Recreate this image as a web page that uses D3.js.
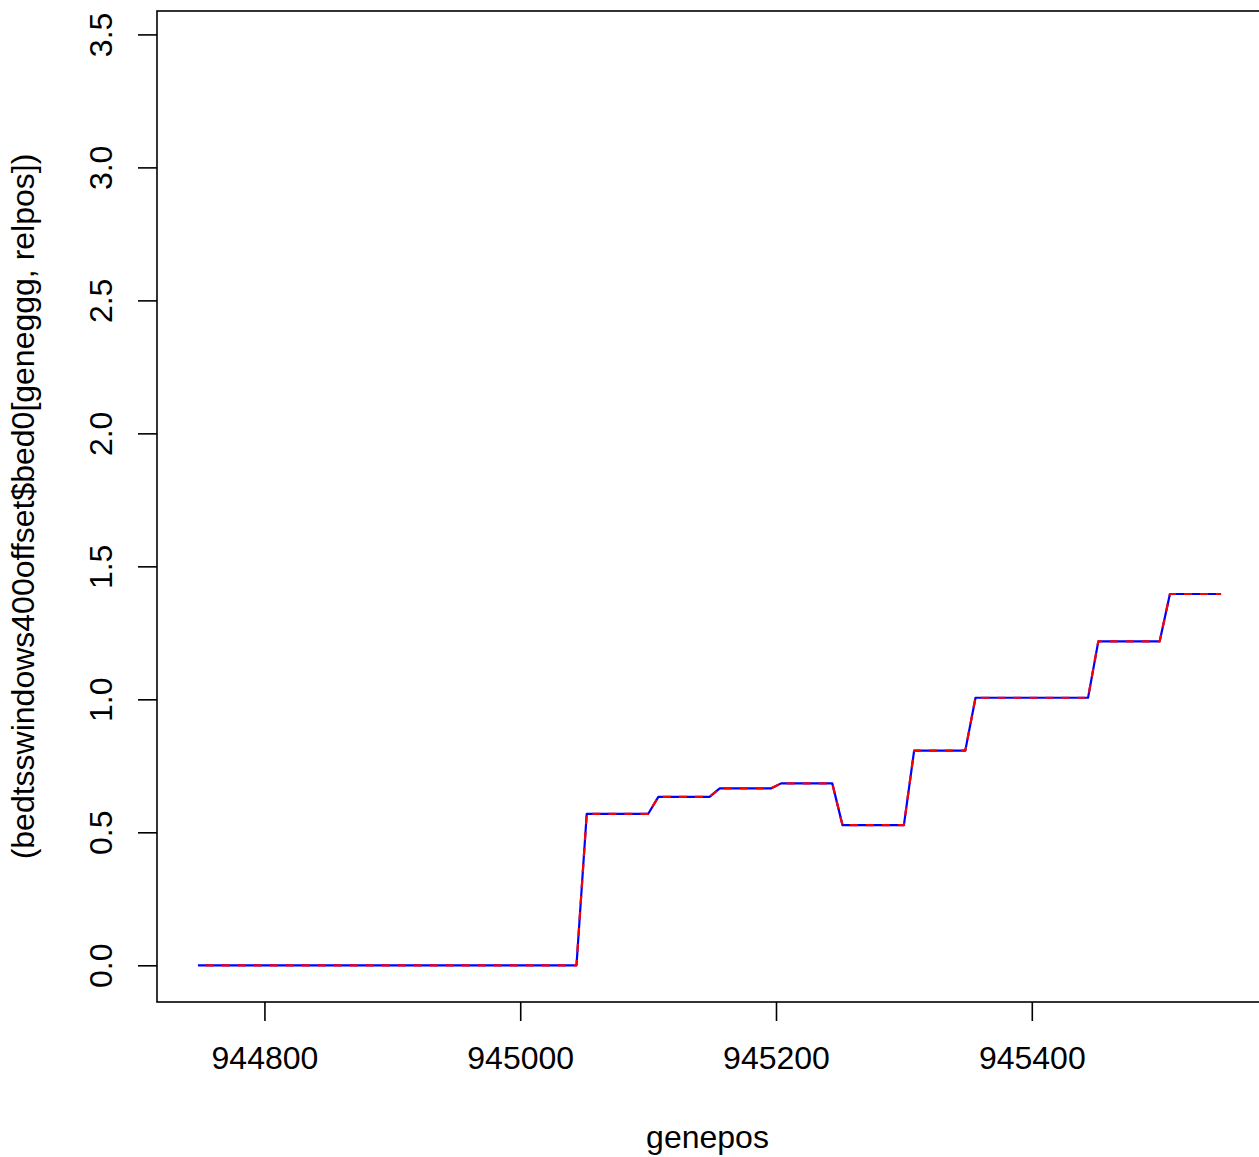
<!DOCTYPE html>
<html>
<head>
<meta charset="utf-8">
<script src="https://cdn.jsdelivr.net/npm/d3@7"></script>
<style>
  html, body { margin: 0; padding: 0; background: #fff; }
  svg { display: block; }
  text { font-family: "Liberation Sans", Arial, Helvetica, sans-serif; fill: #000; }
</style>
</head>
<body>
<svg id="chart" width="1259" height="1157"></svg>
<script>
// ---- data (corner points of the step profile) ----
const genepos = [944748, 945044, 945052, 945100, 945108, 945148, 945156, 945196, 945204, 945244,
                 945252, 945300, 945308, 945348, 945356, 945444, 945452, 945500, 945508, 945548];
const values  = [0, 0, 0.569, 0.569, 0.633, 0.633, 0.665, 0.665, 0.684, 0.684,
                 0.527, 0.527, 0.807, 0.807, 1.006, 1.006, 1.218, 1.218, 1.396, 1.396];
const xTicks = [944800, 945000, 945200, 945400];
const yTicks = [0, 0.5, 1.0, 1.5, 2.0, 2.5, 3.0, 3.5];
const ylim = [0, 3.45];
const xLabel = "genepos";
const yLabel = "(bedtsswindows400offset$bed0[geneggg, relpos])";

// ---- layout ----
const W = 1259, H = 1157;
const plot = { left: 157, top: 11, right: 1262, bottom: 1002 };
const fontSize = 32;

const svg = d3.select("#chart");
svg.append("rect").attr("width", W).attr("height", H).attr("fill", "#fff");

// R-style 4% axis extension
function ext(lo, hi) { const d = (hi - lo) * 0.04; return [lo - d, hi + d]; }
const xDom = ext(d3.min(genepos), d3.max(genepos));
const yDom = ext(ylim[0], ylim[1]);

const x = d3.scaleLinear().domain(xDom).range([plot.left, plot.right]);
const y = d3.scaleLinear().domain(yDom).range([plot.bottom, plot.top]);

// ---- axes ----
const xAxis = d3.axisBottom(x).tickValues(xTicks).tickFormat(d3.format("d"))
  .tickSize(19).tickSizeOuter(0);
const gx = svg.append("g").attr("transform", `translate(0,${plot.bottom})`).call(xAxis);
gx.select(".domain").remove();
gx.selectAll(".tick line").attr("stroke", "#000").attr("stroke-width", 1.6);
gx.selectAll(".tick text")
  .attr("y", 67).attr("dy", null)
  .attr("font-size", fontSize).attr("font-family", null).attr("fill", "#000");

const yAxis = d3.axisLeft(y).tickValues(yTicks).tickFormat(d3.format(".1f"))
  .tickSize(19).tickSizeOuter(0);
const gy = svg.append("g").attr("transform", `translate(${plot.left},0)`).call(yAxis);
gy.select(".domain").remove();
gy.selectAll(".tick line").attr("stroke", "#000").attr("stroke-width", 1.6);
gy.selectAll(".tick text")
  .attr("x", 0).attr("y", 0).attr("dy", null)
  .attr("text-anchor", "middle")
  .attr("transform", "translate(-45,0) rotate(-90)")
  .attr("font-size", fontSize).attr("font-family", null).attr("fill", "#000");

// ---- plot box ----
svg.append("rect")
  .attr("x", plot.left).attr("y", plot.top)
  .attr("width", plot.right - plot.left).attr("height", plot.bottom - plot.top)
  .attr("fill", "none").attr("stroke", "#000").attr("stroke-width", 1.6);

// ---- lines ----
const line = d3.line().x((d, i) => x(genepos[i])).y(d => y(d));
svg.append("path").datum(values)
  .attr("d", line).attr("fill", "none")
  .attr("stroke", "#0000ff").attr("stroke-width", 2.2)
  .attr("stroke-linejoin", "round");
svg.append("path").datum(values)
  .attr("d", line).attr("fill", "none")
  .attr("stroke", "#ff0000").attr("stroke-width", 2.2)
  .attr("stroke-dasharray", "8,8").attr("stroke-dashoffset", 8)
  .attr("stroke-linejoin", "round");

// ---- axis titles ----
svg.append("text")
  .attr("x", (plot.left + plot.right) / 2 - 2).attr("y", 1148)
  .attr("text-anchor", "middle").attr("font-size", fontSize)
  .text(xLabel);
svg.append("text")
  .attr("transform", `translate(34,${(plot.top + plot.bottom) / 2}) rotate(-90)`)
  .attr("text-anchor", "middle").attr("font-size", fontSize)
  .text(yLabel);
</script>
</body>
</html>
